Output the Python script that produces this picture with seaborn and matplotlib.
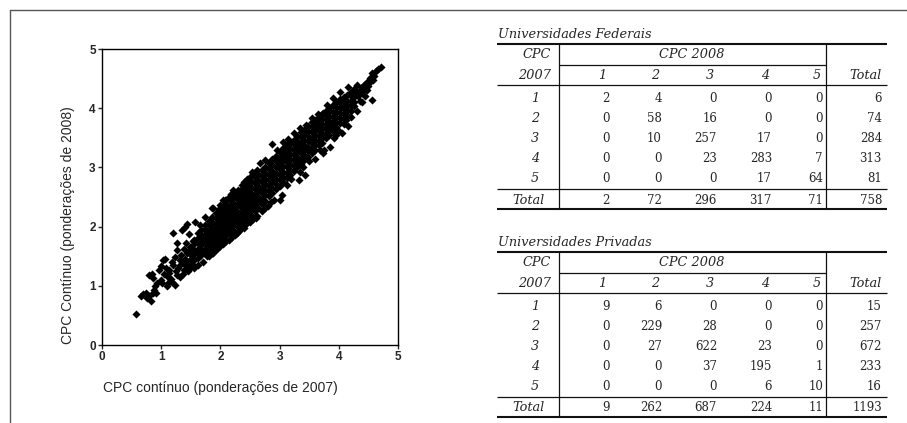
import matplotlib
matplotlib.use("Agg")
import matplotlib.pyplot as plt
import pandas as pd
import seaborn as sns

# scatter: CPC continuo 2007 (x) vs 2008 (y)
low_tail = [
    (0.57, 0.52), (0.66, 0.82), (0.70, 0.86), (0.74, 0.88), (0.76, 0.80),
    (0.80, 0.82), (0.83, 0.75), (0.86, 0.87), (0.79, 1.18), (0.84, 1.20),
    (0.86, 1.13), (0.90, 1.00), (0.93, 1.04), (0.92, 0.87), (0.97, 1.27),
    (0.99, 1.10), (1.02, 1.05), (1.03, 1.44), (1.05, 1.20), (1.06, 1.46),
    (1.08, 1.30), (1.10, 1.00), (1.11, 1.04), (1.13, 1.22), (1.14, 1.27),
    (1.16, 1.12), (1.18, 1.40), (1.18, 1.07), (1.20, 1.35), (1.20, 1.89),
    (1.23, 1.01), (1.24, 1.48), (1.26, 1.60), (1.26, 1.72), (1.27, 1.18),
    (1.29, 1.30), (1.31, 1.15), (1.32, 1.44), (1.32, 1.35), (1.34, 1.52),
    (1.35, 1.94), (1.36, 1.38), (1.38, 1.27), (1.39, 1.62), (1.40, 1.46),
    (1.42, 1.72), (1.43, 1.33), (1.43, 1.30), (1.44, 1.55), (1.46, 1.40),
    (1.47, 1.88), (1.48, 1.30), (1.49, 1.66), (0.88, 0.93), (1.00, 1.33),
    (1.12, 1.15), (1.25, 1.25), (1.37, 1.20), (1.45, 1.25), (1.43, 2.05),
    (1.50, 1.52), (1.52, 1.36), (1.53, 1.75), (1.51, 1.45), (1.47, 1.58),
    (1.40, 2.00),
]

core_columns = [
    (1.56, [1.44, 1.53, 1.61, 1.70, 1.78]),
    (1.62, [1.47, 1.56, 1.63, 1.72, 1.81, 1.89]),
    (1.68, [1.52, 1.61, 1.69, 1.77, 1.86, 1.95]),
    (1.74, [1.55, 1.63, 1.72, 1.81, 1.88, 1.96, 2.03]),
    (1.80, [1.60, 1.68, 1.77, 1.85, 1.93, 2.02, 2.10]),
    (1.86, [1.65, 1.74, 1.82, 1.91, 1.99, 2.08, 2.16]),
    (1.92, [1.71, 1.79, 1.88, 1.96, 2.05, 2.14, 2.23]),
    (1.98, [1.76, 1.85, 1.93, 2.02, 2.11, 2.20, 2.29]),
    (2.04, [1.81, 1.89, 1.98, 2.07, 2.16, 2.25, 2.34]),
    (2.10, [1.86, 1.94, 2.03, 2.12, 2.21, 2.30, 2.39]),
    (2.16, [1.90, 1.99, 2.08, 2.17, 2.26, 2.35, 2.45]),
    (2.22, [1.95, 2.04, 2.13, 2.22, 2.31, 2.40, 2.50]),
    (2.28, [2.01, 2.09, 2.18, 2.27, 2.36, 2.46, 2.56]),
    (2.34, [2.05, 2.14, 2.23, 2.33, 2.42, 2.52, 2.62]),
    (2.40, [2.10, 2.19, 2.28, 2.38, 2.47, 2.57, 2.67]),
    (2.46, [2.15, 2.24, 2.33, 2.43, 2.52, 2.62, 2.72]),
    (2.52, [2.20, 2.29, 2.38, 2.48, 2.57, 2.67, 2.77]),
    (2.58, [2.26, 2.35, 2.44, 2.54, 2.63, 2.73, 2.83]),
    (2.64, [2.32, 2.41, 2.50, 2.60, 2.69, 2.79, 2.89]),
    (2.70, [2.38, 2.47, 2.56, 2.66, 2.75, 2.85, 2.95]),
    (2.76, [2.44, 2.53, 2.62, 2.72, 2.81, 2.91, 3.01]),
    (2.82, [2.51, 2.60, 2.69, 2.79, 2.88, 2.98, 3.08]),
    (2.88, [2.57, 2.66, 2.75, 2.85, 2.94, 3.04, 3.14]),
    (2.94, [2.63, 2.72, 2.81, 2.91, 3.00, 3.10, 3.20]),
    (3.00, [2.69, 2.78, 2.87, 2.97, 3.06, 3.16, 3.26]),
    (3.06, [2.75, 2.84, 2.93, 3.03, 3.12, 3.22, 3.32]),
    (3.12, [2.82, 2.91, 3.00, 3.09, 3.18, 3.28, 3.37]),
    (3.18, [2.87, 2.96, 3.05, 3.14, 3.23, 3.33, 3.42]),
    (3.24, [2.94, 3.03, 3.12, 3.21, 3.30, 3.39, 3.47]),
    (3.30, [3.00, 3.09, 3.18, 3.27, 3.36, 3.45, 3.53]),
    (3.36, [3.06, 3.15, 3.24, 3.33, 3.42, 3.51, 3.59]),
    (3.42, [3.12, 3.21, 3.29, 3.38, 3.47, 3.56, 3.64]),
    (3.48, [3.18, 3.27, 3.35, 3.44, 3.53, 3.62, 3.70]),
    (3.54, [3.24, 3.33, 3.41, 3.50, 3.59, 3.68, 3.76]),
    (3.60, [3.30, 3.38, 3.47, 3.55, 3.64, 3.72, 3.80]),
    (3.66, [3.37, 3.45, 3.53, 3.61, 3.69, 3.77, 3.85]),
    (3.72, [3.42, 3.50, 3.58, 3.66, 3.74, 3.82, 3.90]),
    (3.78, [3.49, 3.57, 3.65, 3.73, 3.81, 3.89, 3.95]),
    (3.84, [3.55, 3.63, 3.71, 3.79, 3.87, 3.95, 4.01]),
    (3.90, [3.61, 3.69, 3.77, 3.85, 3.93, 4.05]),
    (3.96, [3.68, 3.76, 3.85, 3.93, 4.02, 4.10]),
    (4.02, [3.75, 3.84, 3.92, 4.00, 4.08, 4.15]),
    (4.08, [3.82, 3.90, 3.98, 4.06, 4.14, 4.19]),
    (4.14, [3.89, 3.97, 4.05, 4.13, 4.22]),
    (4.20, [3.96, 4.04, 4.12, 4.20, 4.27]),
    (4.26, [4.03, 4.11, 4.19, 4.27, 4.33]),
]

edge_points = [
    (1.55, 1.30), (1.62, 1.35), (1.70, 1.40), (1.78, 1.50), (1.80, 1.50),
    (1.85, 1.55), (1.88, 1.57), (1.95, 1.62), (2.05, 1.70), (2.08, 1.76),
    (2.15, 1.78), (2.25, 1.85), (2.32, 1.92), (2.37, 2.00), (2.44, 2.05),
    (2.55, 2.12), (2.62, 2.18), (2.70, 2.26), (2.80, 2.35), (2.85, 2.42),
    (2.90, 2.45), (3.00, 2.45), (3.04, 2.53), (3.12, 2.70), (3.20, 2.80),
    (3.32, 2.79), (3.34, 2.93), (3.43, 2.87), (3.40, 3.00), (3.49, 3.10),
    (3.60, 3.15), (3.68, 3.29), (3.74, 3.24), (3.75, 3.30), (3.85, 3.35),
    (3.92, 3.50), (3.95, 3.55), (3.99, 3.63), (4.05, 3.58), (4.08, 3.74),
    (4.12, 3.80), (4.15, 3.70), (4.20, 3.85), (4.30, 3.95), (4.40, 4.10),
    (4.56, 4.14), (1.57, 2.08), (1.65, 2.02), (1.74, 2.17), (1.85, 2.32),
    (1.88, 2.31), (2.00, 2.36), (2.05, 2.45), (2.08, 2.45), (2.12, 2.48),
    (2.18, 2.55), (2.22, 2.62), (2.25, 2.53), (2.30, 2.62), (2.36, 2.70),
    (2.40, 2.75), (2.45, 2.80), (2.50, 2.84), (2.53, 2.93), (2.56, 2.90),
    (2.62, 2.96), (2.67, 3.07), (2.75, 3.12), (2.88, 3.39), (2.95, 3.30),
    (3.05, 3.43), (3.15, 3.48), (3.25, 3.58), (3.35, 3.66), (3.45, 3.72),
    (3.55, 3.83), (3.65, 3.90), (3.74, 3.92), (3.80, 4.05), (3.91, 4.17),
    (4.02, 4.28), (2.00, 1.68), (2.10, 1.75), (2.19, 1.83), (2.28, 1.90),
    (2.40, 1.98), (2.50, 2.08), (2.60, 2.15), (2.75, 2.32), (1.88, 1.55),
]

top_tail = [
    (4.16, 4.35), (4.25, 4.22), (4.30, 4.28), (4.33, 4.20), (4.35, 4.30),
    (4.39, 4.36), (4.40, 4.25), (4.42, 4.40), (4.45, 4.32), (4.47, 4.45),
    (4.48, 4.30), (4.50, 4.38), (4.53, 4.51), (4.56, 4.59), (4.58, 4.48),
    (4.60, 4.55), (4.62, 4.62), (4.67, 4.66), (4.72, 4.70), (4.36, 4.12),
    (4.31, 4.40), (4.44, 4.20), (4.52, 4.44),
]

# contingency tables (CPC 2007 rows x CPC 2008 columns)
federais = [[2, 4, 0, 0, 0], [0, 58, 16, 0, 0], [0, 10, 257, 17, 0],
            [0, 0, 23, 283, 7], [0, 0, 0, 17, 64]]
federais_row_tot = [6, 74, 284, 313, 81]
federais_col_tot = [2, 72, 296, 317, 71]
federais_total = 758

privadas = [[9, 6, 0, 0, 0], [0, 229, 28, 0, 0], [0, 27, 622, 23, 0],
            [0, 0, 37, 195, 1], [0, 0, 0, 6, 10]]
privadas_row_tot = [15, 257, 672, 233, 16]
privadas_col_tot = [9, 262, 687, 224, 11]
privadas_total = 1193

pts = list(low_tail) + list(edge_points) + list(top_tail)
for cx, ys in core_columns:
    pts += [(cx, yy) for yy in ys]
df = pd.DataFrame(pts, columns=["cpc2007", "cpc2008"])

sns.set_style("white")
plt.rcParams["font.family"] = ["Liberation Sans", "DejaVu Sans"]

W, H = 907, 423
fig = plt.figure(figsize=(W / 100, H / 100), dpi=100)

ax = fig.add_axes([102 / W, 78 / H, 296 / W, 296 / H])
sns.scatterplot(data=df, x="cpc2007", y="cpc2008", ax=ax, color="black",
                marker="D", s=17, linewidth=0, legend=False)
ax.set_xlim(0, 5)
ax.set_ylim(0, 5)
ax.set_xticks(range(6))
ax.set_yticks(range(6))
ax.set_xlabel("")
ax.set_ylabel("")
for sp in ax.spines.values():
    sp.set_visible(True)
    sp.set_color("black")
    sp.set_linewidth(1.0)
ax.tick_params(direction="out", length=3, width=1, pad=1.5, labelsize=8.5,
               bottom=True, left=True)
for lab in ax.get_xticklabels() + ax.get_yticklabels():
    lab.set_fontweight("bold")

fig.text(68 / W, 1 - 225 / H, "CPC Contínuo (ponderações de 2008)",
         rotation=90, ha="center", va="center", fontsize=10)
fig.text(220 / W, 1 - 388 / H, "CPC contínuo (ponderações de 2007)",
         ha="center", va="center", fontsize=10)

# overlay in pixel units for the frame and the tables
ov = fig.add_axes([0, 0, 1, 1], zorder=-1)
ov.set_xlim(0, W)
ov.set_ylim(H, 0)
ov.axis("off")
ov.plot([10, 10], [H, 10], color="#555555", lw=1)
ov.plot([10, W], [10, 10], color="#555555", lw=1)

serif = ["DejaVu Serif"]
val_x = [610, 662, 717, 772, 823]
head_x = [606, 659, 714, 769, 821]
fs_num = 8.5
fs_it = 9.3


def draw_table(top, title, body, row_tot, col_tot, grand):
    def hl(y, x0, x1, lw):
        ov.plot([x0, x1], [y, y], color="#111111", lw=lw, solid_capstyle="butt")

    ov.text(498, top - 3, title, ha="left", va="bottom", fontsize=fs_it,
            style="italic", family=serif)
    hl(top, 497, 887, 1.5)
    hl(top + 21.5, 559, 826, 0.9)
    hl(top + 41.5, 497, 887, 0.9)
    hl(top + 145.5, 497, 887, 0.9)
    hl(top + 165.5, 497, 887, 1.5)
    for vx in (559, 826):
        ov.plot([vx, vx], [top, top + 165.5], color="#111111", lw=0.9)
    ov.text(551, top + 11, "CPC", ha="right", va="center", fontsize=fs_it,
            style="italic", family=serif)
    ov.text(692, top + 11, "CPC 2008", ha="center", va="center",
            fontsize=fs_it, style="italic", family=serif)
    ov.text(551, top + 31.5, "2007", ha="right", va="center", fontsize=fs_it,
            style="italic", family=serif)
    for k in range(5):
        ov.text(head_x[k], top + 31.5, str(k + 1), ha="right", va="center",
                fontsize=fs_it, style="italic", family=serif)
    ov.text(882, top + 31.5, "Total", ha="right", va="center", fontsize=fs_it,
            style="italic", family=serif)
    for i, row in enumerate(body):
        yy = top + 55 + 20 * i
        ov.text(539, yy, str(i + 1), ha="right", va="center", fontsize=fs_it,
                style="italic", family=serif)
        for k, v in enumerate(row):
            ov.text(val_x[k], yy, str(v), ha="right", va="center",
                    fontsize=fs_num, family=serif)
        ov.text(882, yy, str(row_tot[i]), ha="right", va="center",
                fontsize=fs_num, family=serif)
    yy = top + 156
    ov.text(545, yy, "Total", ha="right", va="center", fontsize=fs_it,
            style="italic", family=serif)
    for k, v in enumerate(col_tot):
        ov.text(val_x[k], yy, str(v), ha="right", va="center",
                fontsize=fs_num, family=serif)
    ov.text(882, yy, str(grand), ha="right", va="center", fontsize=fs_num,
            family=serif)


draw_table(44, "Universidades Federais", federais, federais_row_tot,
           federais_col_tot, federais_total)
draw_table(251.7, "Universidades Privadas", privadas, privadas_row_tot,
           privadas_col_tot, privadas_total)

fig.savefig("out.png", dpi=100)
